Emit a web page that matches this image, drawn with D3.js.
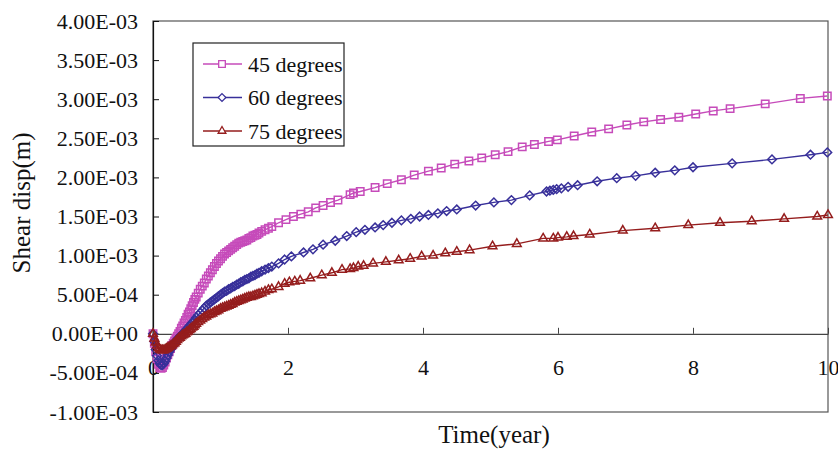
<!DOCTYPE html>
<html>
<head>
<meta charset="utf-8">
<script src="https://cdn.jsdelivr.net/npm/d3@7"></script>
<style>
  body { margin: 0; background: #fff; }
  svg { display: block; font-family: "Liberation Serif", "Times New Roman", serif; }
</style>
</head>
<body>
<div id="chart"></div>
<script>
// shear displacement, values in units of 1e-3 m
const t45 = [0, 0.02, 0.04, 0.06, 0.08, 0.10, 0.12, 0.14, 0.16, 0.18, 0.20, 0.22, 0.24, 0.26, 0.28, 0.30,
  0.32, 0.34, 0.36, 0.38, 0.40, 0.42, 0.44, 0.46, 0.48, 0.50, 0.52, 0.54, 0.56, 0.58, 0.60, 0.62, 0.64,
  0.67, 0.70, 0.73, 0.76, 0.79, 0.82, 0.85, 0.88, 0.91, 0.94, 0.97, 1.00, 1.03, 1.06, 1.09, 1.12, 1.15,
  1.18, 1.21, 1.24, 1.27, 1.30, 1.33, 1.36, 1.39, 1.42, 1.45, 1.48, 1.51, 1.54, 1.57, 1.61, 1.66, 1.71,
  1.76, 1.86, 1.97, 2.08, 2.19, 2.30, 2.41, 2.52, 2.63, 2.74, 2.92, 2.97, 3.07, 3.29, 3.47, 3.68, 3.87,
  4.08, 4.27, 4.47, 4.68, 4.87, 5.07, 5.26, 5.47, 5.65, 5.86, 5.99, 6.24, 6.50, 6.75, 7.02, 7.27, 7.52,
  7.79, 8.04, 8.30, 8.55, 9.07, 9.59, 9.99];
const v45 = [0, -0.12, -0.23, -0.32, -0.39, -0.43, -0.44, -0.43, -0.40, -0.36, -0.31, -0.27, -0.23, -0.19, -0.15, -0.12,
  -0.09, -0.06, -0.03, 0.00, 0.03, 0.07, 0.10, 0.14, 0.17, 0.21, 0.25, 0.28, 0.32, 0.36, 0.40, 0.44, 0.47,
  0.52, 0.57, 0.61, 0.65, 0.70, 0.74, 0.78, 0.82, 0.86, 0.90, 0.93, 0.96, 0.99, 1.02, 1.04, 1.06, 1.08,
  1.10, 1.12, 1.14, 1.16, 1.17, 1.18, 1.19, 1.20, 1.22, 1.23, 1.25, 1.26, 1.27, 1.29, 1.31, 1.33, 1.35,
  1.37, 1.42, 1.46, 1.50, 1.53, 1.56, 1.61, 1.64, 1.68, 1.71, 1.78, 1.80, 1.82, 1.87, 1.92, 1.97, 2.03,
  2.08, 2.12, 2.17, 2.21, 2.25, 2.29, 2.33, 2.39, 2.42, 2.46, 2.48, 2.53, 2.58, 2.62, 2.67, 2.71, 2.74,
  2.77, 2.81, 2.85, 2.88, 2.94, 3.01, 3.04];

const t60 = [0, 0.02, 0.04, 0.06, 0.08, 0.10, 0.12, 0.14, 0.16, 0.18, 0.20, 0.22, 0.24, 0.26, 0.28, 0.30,
  0.32, 0.34, 0.36, 0.38, 0.40, 0.42, 0.44, 0.46, 0.48, 0.50, 0.52, 0.54, 0.56, 0.58, 0.60, 0.62, 0.64,
  0.67, 0.70, 0.73, 0.76, 0.79, 0.82, 0.85, 0.88, 0.91, 0.94, 0.97, 1.00, 1.03, 1.06, 1.09, 1.12, 1.15,
  1.18, 1.21, 1.24, 1.27, 1.30, 1.33, 1.36, 1.39, 1.42, 1.45, 1.48, 1.51, 1.54, 1.57, 1.61, 1.66, 1.71,
  1.76, 1.86, 1.95, 2.05, 2.23, 2.37, 2.52, 2.70, 2.87, 3.01, 3.14, 3.29, 3.41, 3.54, 3.68, 3.82, 3.95,
  4.08, 4.22, 4.35, 4.50, 4.78, 5.05, 5.31, 5.58, 5.83, 5.88, 5.93, 5.98, 6.05, 6.15, 6.29, 6.58, 6.87,
  7.15, 7.44, 7.73, 8.00, 8.58, 9.17, 9.74, 9.99];
const v60 = [0, -0.10, -0.20, -0.28, -0.34, -0.38, -0.40, -0.40, -0.38, -0.35, -0.31, -0.27, -0.23, -0.20, -0.17, -0.14,
  -0.11, -0.09, -0.07, -0.05, -0.03, -0.02, 0.00, 0.02, 0.04, 0.06, 0.08, 0.10, 0.12, 0.14, 0.16, 0.18, 0.21,
  0.24, 0.27, 0.30, 0.33, 0.36, 0.38, 0.40, 0.42, 0.44, 0.46, 0.48, 0.50, 0.52, 0.54, 0.55, 0.57, 0.58,
  0.60, 0.61, 0.63, 0.64, 0.66, 0.67, 0.69, 0.70, 0.71, 0.73, 0.74, 0.75, 0.77, 0.78, 0.80, 0.82, 0.84,
  0.86, 0.90, 0.95, 0.99, 1.04, 1.08, 1.14, 1.19, 1.25, 1.30, 1.33, 1.36, 1.39, 1.42, 1.45, 1.47, 1.50,
  1.52, 1.54, 1.57, 1.59, 1.64, 1.68, 1.71, 1.77, 1.82, 1.83, 1.84, 1.85, 1.86, 1.88, 1.90, 1.95, 1.99,
  2.02, 2.06, 2.09, 2.13, 2.18, 2.23, 2.29, 2.32];

const t75 = [0, 0.02, 0.04, 0.06, 0.08, 0.10, 0.12, 0.14, 0.16, 0.18, 0.20, 0.22, 0.24, 0.26, 0.28, 0.30,
  0.32, 0.34, 0.36, 0.38, 0.40, 0.42, 0.44, 0.46, 0.48, 0.50, 0.52, 0.54, 0.56, 0.58, 0.60, 0.62, 0.64,
  0.67, 0.70, 0.73, 0.76, 0.79, 0.82, 0.85, 0.88, 0.91, 0.94, 0.97, 1.00, 1.03, 1.06, 1.09, 1.12, 1.15,
  1.18, 1.21, 1.24, 1.27, 1.30, 1.33, 1.36, 1.39, 1.42, 1.45, 1.48, 1.51, 1.54, 1.57, 1.61, 1.66, 1.71,
  1.76, 1.86, 1.95, 2.02, 2.10, 2.18, 2.33, 2.50, 2.65, 2.80, 2.92, 2.97, 3.04, 3.12, 3.26, 3.45, 3.64,
  3.81, 3.98, 4.15, 4.33, 4.50, 4.69, 5.03, 5.39, 5.78, 5.93, 6.00, 6.13, 6.23, 6.47, 6.96, 7.44, 7.93,
  8.40, 8.87, 9.35, 9.84, 10.0];
const v75 = [0, -0.06, -0.11, -0.15, -0.18, -0.20, -0.21, -0.21, -0.21, -0.20, -0.19, -0.18, -0.17, -0.16, -0.15, -0.13,
  -0.12, -0.10, -0.08, -0.06, -0.05, -0.03, -0.02, -0.01, 0.00, 0.02, 0.03, 0.05, 0.06, 0.08, 0.09, 0.11, 0.13,
  0.15, 0.17, 0.19, 0.21, 0.22, 0.24, 0.25, 0.26, 0.28, 0.29, 0.30, 0.32, 0.33, 0.34, 0.35, 0.36, 0.37,
  0.38, 0.40, 0.41, 0.42, 0.43, 0.44, 0.45, 0.46, 0.47, 0.47, 0.48, 0.49, 0.50, 0.51, 0.52, 0.54, 0.56,
  0.57, 0.60, 0.64, 0.66, 0.67, 0.68, 0.71, 0.75, 0.78, 0.82, 0.83, 0.84, 0.86, 0.87, 0.90, 0.92, 0.94,
  0.96, 0.99, 1.00, 1.03, 1.05, 1.07, 1.12, 1.15, 1.22, 1.22, 1.23, 1.24, 1.25, 1.27, 1.32, 1.35, 1.39,
  1.42, 1.44, 1.47, 1.50, 1.52];

const seriesNames = ['45 degrees', '60 degrees', '75 degrees'];
const xTicks = [0, 2, 4, 6, 8, 10];
const yTicks = [-1e-3, -5e-4, 0, 5e-4, 1e-3, 1.5e-3, 2e-3, 2.5e-3, 3e-3, 3.5e-3, 4e-3];

const width = 838, height = 451;
const plot = { left: 153, right: 828, top: 21, bottom: 412 };
const serif = '"Liberation Serif", "Times New Roman", serif';

const series = [
  { name: seriesNames[0], t: t45, v: v45, color: '#c64bba', symbol: d3.symbolSquare2, size: 70 },
  { name: seriesNames[1], t: t60, v: v60, color: '#38309a', symbol: d3.symbolDiamond2, size: 48 },
  { name: seriesNames[2], t: t75, v: v75, color: '#951d1d', symbol: d3.symbolTriangle2, size: 54 }
];

const x = d3.scaleLinear().domain([0, 10]).range([plot.left, plot.right]);
const y = d3.scaleLinear().domain([-1e-3, 4e-3]).range([plot.bottom, plot.top]);

// Excel style scientific labels, e.g. 4.00E-03
function sci(d) {
  if (d === 0) return '0.00E+00';
  const [m, e] = d.toExponential(2).split('e');
  const n = +e;
  return m + 'E' + (n < 0 ? '-' : '+') + String(Math.abs(n)).padStart(2, '0');
}

const svg = d3.select('#chart').append('svg')
  .attr('width', width)
  .attr('height', height);

// plot frame
svg.append('rect')
  .attr('x', plot.left).attr('y', plot.top)
  .attr('width', plot.right - plot.left)
  .attr('height', plot.bottom - plot.top)
  .attr('fill', 'none')
  .attr('stroke', '#555')
  .attr('stroke-width', 1.2);

// y axis, ticks inward
const yAxis = svg.append('g')
  .attr('transform', `translate(${plot.left},0)`)
  .call(d3.axisLeft(y).tickValues(yTicks).tickFormat(sci).tickSizeInner(-6).tickSizeOuter(0).tickPadding(15));
yAxis.attr('font-family', serif);
yAxis.select('.domain').attr('stroke', '#111').attr('stroke-width', 1.2);
yAxis.selectAll('.tick line').attr('stroke', '#111');
yAxis.selectAll('text').attr('font-size', 22).attr('fill', '#111');

// x axis along zero, ticks upward
const xAxis = svg.append('g')
  .attr('transform', `translate(0,${y(0)})`)
  .call(d3.axisBottom(x).tickValues(xTicks).tickFormat(d3.format('d')).tickSizeInner(-6).tickSizeOuter(0).tickPadding(26));
xAxis.attr('font-family', serif);
xAxis.select('.domain').attr('stroke', '#444').attr('stroke-width', 1.2);
xAxis.selectAll('.tick line').attr('stroke', '#444');
xAxis.selectAll('text').attr('font-size', 22).attr('fill', '#111');

// axis titles
svg.append('text')
  .attr('transform', 'translate(30,203) rotate(-90)')
  .attr('text-anchor', 'middle')
  .attr('font-size', 25)
  .attr('fill', '#111')
  .text('Shear disp(m)');

svg.append('text')
  .attr('x', 494).attr('y', 443)
  .attr('text-anchor', 'middle')
  .attr('font-size', 25)
  .attr('fill', '#111')
  .text('Time(year)');

const line = d3.line()
  .x(d => x(d[0]))
  .y(d => y(d[1] * 1e-3));

series.forEach(s => {
  const pts = s.t.map((t, i) => [t, s.v[i]]);
  const g = svg.append('g');
  g.append('path')
    .datum(pts)
    .attr('d', line)
    .attr('fill', 'none')
    .attr('stroke', s.color)
    .attr('stroke-width', 1.4);
  // hollow markers, the early dense ones pile up into a thick band
  g.selectAll('path.mk')
    .data(pts)
    .enter()
    .append('path')
    .attr('class', 'mk')
    .attr('transform', d => `translate(${x(d[0])},${y(d[1] * 1e-3)})`)
    .attr('d', d3.symbol().type(s.symbol).size(s.size))
    .attr('fill', 'none')
    .attr('stroke', s.color)
    .attr('stroke-width', 1.5);
});

// legend
const legend = svg.append('g');
legend.append('rect')
  .attr('x', 193).attr('y', 43)
  .attr('width', 151).attr('height', 103)
  .attr('fill', '#fff')
  .attr('stroke', '#222')
  .attr('stroke-width', 1.2);

series.forEach((s, i) => {
  const yy = 64 + i * 33.5;
  legend.append('line')
    .attr('x1', 203).attr('x2', 242)
    .attr('y1', yy).attr('y2', yy)
    .attr('stroke', s.color)
    .attr('stroke-width', 1.4);
  legend.append('path')
    .attr('transform', `translate(222,${yy})`)
    .attr('d', d3.symbol().type(s.symbol).size(s.size * 0.8))
    .attr('fill', '#fff')
    .attr('stroke', s.color)
    .attr('stroke-width', 1.3);
  legend.append('text')
    .attr('x', 248).attr('y', yy)
    .attr('dy', '0.35em')
    .attr('font-size', 22)
    .attr('fill', '#111')
    .text(s.name);
});
</script>
</body>
</html>
